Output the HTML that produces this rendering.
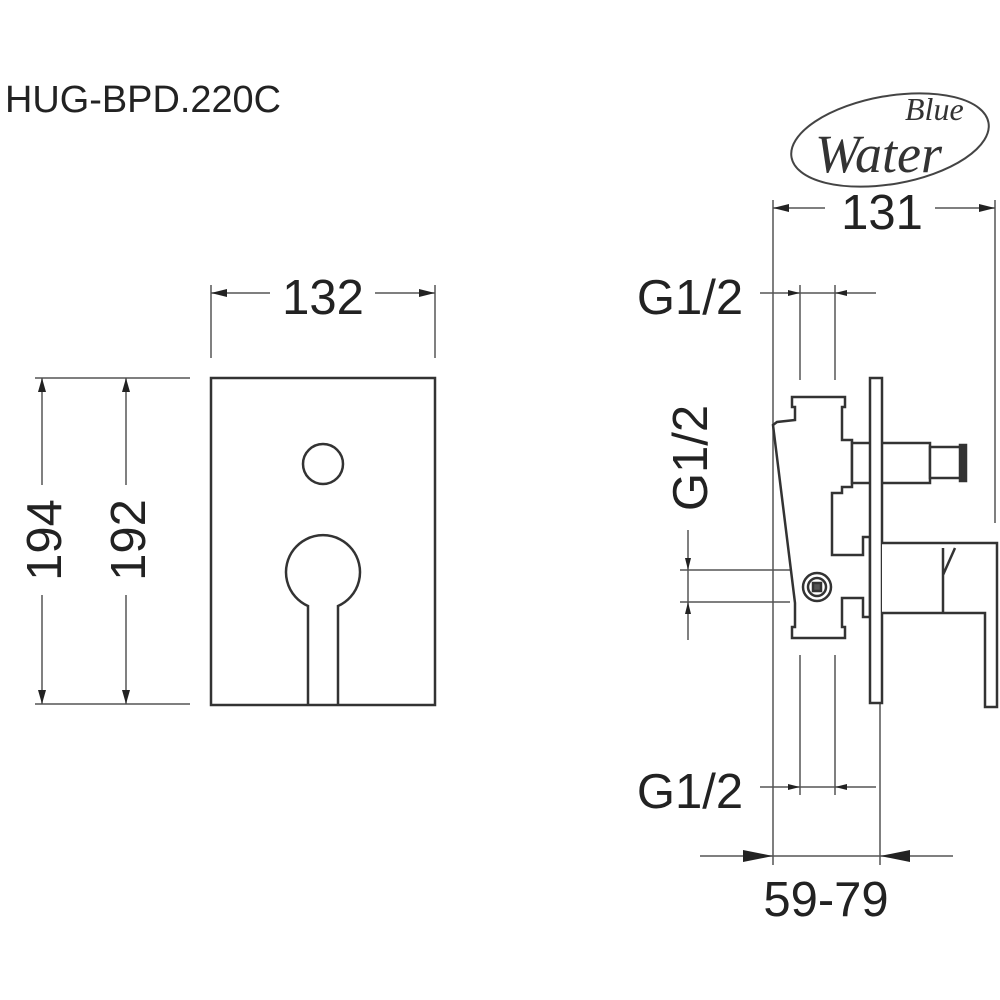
<!DOCTYPE html>
<html><head><meta charset="utf-8"><style>html,body{margin:0;padding:0;background:#fff}svg{display:block}</style></head>
<body>
<svg width="1000" height="1000" viewBox="0 0 1000 1000" xmlns="http://www.w3.org/2000/svg" font-family="Liberation Sans, sans-serif">
<rect width="1000" height="1000" fill="#fff"/>
<text x="5" y="112" font-size="38" fill="#222" textLength="276" lengthAdjust="spacingAndGlyphs">HUG-BPD.220C</text>
<!-- logo -->
<ellipse cx="890" cy="140" rx="100" ry="44" fill="none" stroke="#444" stroke-width="2" transform="rotate(-10 890 140)"/>
<text x="905" y="120" font-family="Liberation Serif, serif" font-style="italic" font-size="32" fill="#333">Blue</text>
<text x="815" y="172" font-family="Liberation Serif, serif" font-style="italic" font-size="54" fill="#333">Water</text>
<g stroke="#333" fill="none" stroke-width="2.5">
<rect x="211" y="378" width="224" height="327"/>
<circle cx="323" cy="464" r="20"/>
<path d="M308,705 L308,606 A37,37 0 1 1 338,606 L338,705"/>
</g>
<g stroke="#555" fill="none" stroke-width="1.5">
<line x1="211" y1="285" x2="211" y2="358"/><line x1="435" y1="285" x2="435" y2="358"/>
<line x1="211" y1="293" x2="270" y2="293"/><line x1="375" y1="293" x2="435" y2="293"/>
<line x1="35" y1="378" x2="190" y2="378"/><line x1="35" y1="704" x2="190" y2="704"/>
<line x1="42" y1="378" x2="42" y2="485"/><line x1="42" y1="595" x2="42" y2="704"/>
<line x1="126" y1="378" x2="126" y2="485"/><line x1="126" y1="595" x2="126" y2="704"/>
</g>
<g fill="#222">
<path d="M211,293 l16,-4 v8z"/><path d="M435,293 l-16,-4 v8z"/>
<path d="M42,378 l-4,14 h8z"/><path d="M42,704 l-4,-14 h8z"/>
<path d="M126,378 l-4,14 h8z"/><path d="M126,704 l-4,-14 h8z"/>
</g>
<g font-size="49" fill="#222" text-anchor="middle">
<text x="323" y="314">132</text>
<text transform="translate(61 540) rotate(-90)">194</text>
<text transform="translate(145 540) rotate(-90)">192</text>
<text x="882" y="229">131</text>
<text x="690" y="314">G1/2</text>
<text transform="translate(707 458) rotate(-90)">G1/2</text>
<text x="690" y="808">G1/2</text>
<text x="826" y="916">59-79</text>
</g>
<g stroke="#555" fill="none" stroke-width="1.5">
<line x1="773" y1="200" x2="773" y2="865"/>
<line x1="995" y1="200" x2="995" y2="523"/>
<line x1="773" y1="208" x2="825" y2="208"/><line x1="935" y1="208" x2="995" y2="208"/>
<line x1="760" y1="293" x2="876" y2="293"/>
<line x1="800" y1="285" x2="800" y2="380"/><line x1="835" y1="285" x2="835" y2="380"/>
<line x1="760" y1="787" x2="876" y2="787"/>
<line x1="800" y1="655" x2="800" y2="795"/><line x1="835" y1="655" x2="835" y2="795"/>
<line x1="880" y1="700" x2="880" y2="865"/>
<line x1="700" y1="856" x2="953" y2="856"/>
<line x1="688" y1="530" x2="688" y2="640"/>
<line x1="680" y1="570" x2="795" y2="570"/><line x1="680" y1="602" x2="790" y2="602"/>
</g>
<g fill="#222">
<path d="M773,208 l16,-4 v8z"/><path d="M995,208 l-16,-4 v8z"/>
<path d="M800,293 l-12,-3 v6z"/><path d="M835,293 l12,-3 v6z"/>
<path d="M800,787 l-12,-3 v6z"/><path d="M835,787 l12,-3 v6z"/>
<path d="M773,856 l-30,-6 v12z"/><path d="M880,856 l30,-6 v12z"/>
<path d="M688,570 l-3,-12 h6z"/><path d="M688,602 l-3,12 h6z"/>
</g>
<g stroke="#333" fill="#fff" stroke-width="2.5">
<path d="M792,397 L845,397 L845,407 L842,407 L842,440 L852,440 L852,487 L842,487 L842,493 L832,493 L832,555 L863,555 L863,537 L870,537 L870,617 L863,617 L863,598 L842,598 L842,627 L845,627 L845,638 L792,638 L792,627 L795,627 L795,603 L773,425 L777,422 L795,420 L795,407 L792,407 Z"/>
<rect x="852" y="443" width="78" height="40"/>
<rect x="930" y="447" width="34" height="31"/>
<rect x="960" y="445" width="6" height="36" fill="#333"/>
<rect x="870" y="378" width="12" height="325"/>
<path d="M882,543 L997,543 L997,707 L985,707 L985,613 L882,613"/>
<path d="M943,548 L943,612 M943,575 L955,548" fill="none"/>
<circle cx="817" cy="587" r="14"/>
<circle cx="817" cy="587" r="9"/>
<rect x="813" y="583" width="8" height="8" fill="#555"/>
</g>
</svg>
</body></html>
